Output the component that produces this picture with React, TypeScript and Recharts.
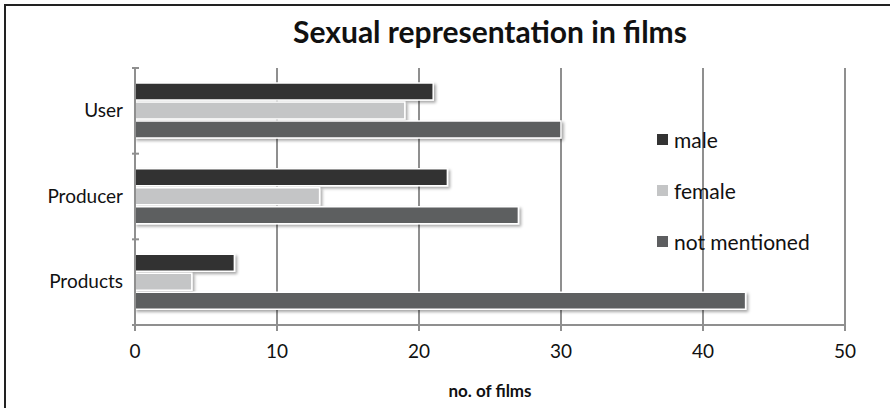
import { BarChart, Bar, XAxis, YAxis, CartesianGrid, Legend } from "recharts";

const categories = ["User", "Producer", "Products"];
const male = [21, 22, 7];
const female = [19, 13, 4];
const notMentioned = [30, 27, 43];
const xTicks = [0, 10, 20, 30, 40, 50];
const seriesNames = ["male", "female", "not mentioned"];

const data = categories.map((name, i) => ({
  name,
  male: male[i],
  female: female[i],
  notMentioned: notMentioned[i],
}));

const FONT = "Lato, 'Open Sans', sans-serif";
const GRID = "#8f8f8f";
const PLOT_TOP = 68;
const PLOT_H = 257;
const BAND = PLOT_H / categories.length;

const CategoryTick = (props: any) => {
  const { x, y, payload, index } = props;
  const ax = x + 12;
  return (
    <g>
      <line x1={ax - 7} x2={ax} y1={y - BAND / 2} y2={y - BAND / 2} stroke={GRID} strokeWidth={2} />
      {index === categories.length - 1 && (
        <line x1={ax - 7} x2={ax} y1={y + BAND / 2} y2={y + BAND / 2} stroke={GRID} strokeWidth={2} />
      )}
      <text x={x - 4} y={y} dy={6} textAnchor="end" fontFamily={FONT} fontSize={19} fill="#111">
        {payload.value}
      </text>
    </g>
  );
};

const LegendBox = (props: any) => {
  const items = [...(props.payload || [])].sort(
    (a: any, b: any) => seriesNames.indexOf(a.value) - seriesNames.indexOf(b.value)
  );
  return (
    <div style={{ fontFamily: FONT, fontSize: 21, color: "#111" }}>
      {items.map((entry: any) => (
        <div key={entry.value} style={{ display: "flex", alignItems: "center", height: 51 }}>
          <span style={{ width: 11, height: 11, background: entry.color, marginRight: 6, display: "inline-block" }} />
          <span>{entry.value}</span>
        </div>
      ))}
    </div>
  );
};

const barStyle = { stroke: "#fff", strokeWidth: 1.5, filter: "url(#barShadow)" };

export default function App() {
  return (
    <div style={{ position: "absolute", left: 0, top: 0, width: 890, height: 408, background: "#fff" }}>
      <svg width={0} height={0} style={{ position: "absolute" }}>
        <defs>
          <filter id="barShadow" x="-10%" y="-30%" width="120%" height="180%">
            <feDropShadow dx={2} dy={2} stdDeviation={1.5} floodColor="#000" floodOpacity={0.35} />
          </filter>
        </defs>
      </svg>
      <div
        style={{
          position: "absolute",
          left: 4,
          top: 4,
          width: 886,
          height: 404,
          borderTop: "2px solid #222",
          borderLeft: "2px solid #222",
          boxSizing: "border-box",
        }}
      />
      <div
        style={{
          position: "absolute",
          left: 135,
          width: 710,
          top: 13,
          textAlign: "center",
          fontFamily: FONT,
          fontWeight: 700,
          fontSize: 30,
          color: "#111",
        }}
      >
        Sexual representation in films
      </div>
      <div style={{ position: "absolute", left: 0, top: 0 }}>
        <BarChart
          width={890}
          height={408}
          data={data}
          layout="vertical"
          margin={{ top: PLOT_TOP, right: 45, bottom: 408 - PLOT_TOP - PLOT_H - 55, left: 0 }}
          barSize={17}
          barGap={2}
        >
          <CartesianGrid horizontal={false} stroke={GRID} strokeWidth={2} />
          <XAxis
            type="number"
            domain={[0, 50]}
            ticks={xTicks}
            interval={0}
            stroke={GRID}
            strokeWidth={2}
            tickSize={6}
            tickMargin={14}
            height={55}
            tick={{ fontFamily: FONT, fontSize: 19, fill: "#111" }}
            label={{
              value: "no. of films",
              position: "insideBottom",
              offset: -17,
              style: { fontFamily: FONT, fontWeight: 700, fontSize: 17, fill: "#111" },
            }}
          />
          <YAxis
            type="category"
            dataKey="name"
            width={135}
            stroke={GRID}
            strokeWidth={2}
            tickLine={false}
            tick={<CategoryTick />}
          />
          <Legend
            layout="vertical"
            verticalAlign="middle"
            content={<LegendBox />}
            wrapperStyle={{ position: "absolute", left: 657, top: 114, width: 220 }}
          />
          <Bar dataKey="male" name="male" fill="#333333" {...barStyle} isAnimationActive={false} />
          <Bar dataKey="female" name="female" fill="#c4c5c6" {...barStyle} isAnimationActive={false} />
          <Bar dataKey="notMentioned" name="not mentioned" fill="#5d5e60" {...barStyle} isAnimationActive={false} />
        </BarChart>
      </div>
    </div>
  );
}
